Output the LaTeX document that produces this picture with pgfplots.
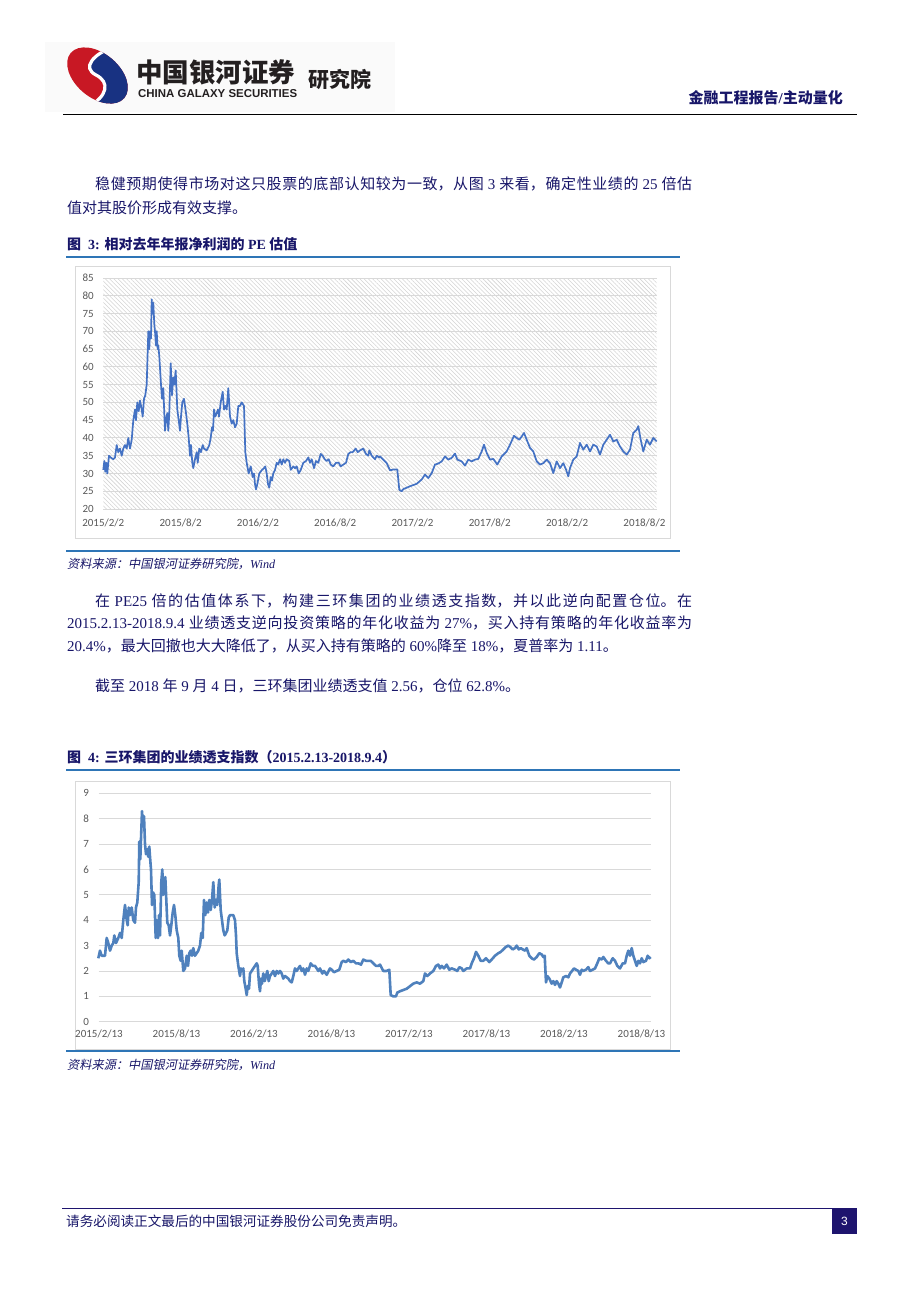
\documentclass[border=0pt]{standalone}
\usepackage{fontspec}
\usepackage{pgfplots}
\pgfplotsset{compat=1.18}
\usetikzlibrary{patterns.meta}
\setmainfont{Liberation Serif}
\newfontfamily\cjk{Noto Sans CJK SC}
\newfontfamily\cjkit[FakeSlant=0.2]{Noto Sans CJK SC}
\newfontfamily\ticksf{Carlito}
\newfontfamily\logosf{Liberation Sans}
\XeTeXlinebreaklocale "zh"
\XeTeXlinebreakskip=0pt plus 4pt minus 0.3pt
\definecolor{navy}{RGB}{24,22,105}
\definecolor{bluerule}{RGB}{46,117,182}
\definecolor{footnavy}{RGB}{30,20,110}
\definecolor{tickgray}{RGB}{89,89,89}
\definecolor{gridgray}{RGB}{217,217,217}
\definecolor{hatch}{RGB}{212,212,212}
\definecolor{boxgray}{RGB}{217,217,217}
\definecolor{lineA}{RGB}{68,114,196}
\definecolor{lineB}{RGB}{79,129,189}
\definecolor{logored}{RGB}{200,24,36}
\definecolor{logoblue}{RGB}{24,50,130}
\definecolor{logotext}{RGB}{35,31,32}
\newcommand\jline[2]{\parbox{#1}{\parfillskip=0pt\parindent=0pt\tolerance=10000\relax #2}}
\begin{document}
\begin{tikzpicture}
\begin{scope}[x=1pt,y=-1pt]
\fill[white] (0,0) rectangle (920,1302);
% logo
\fill[black!2] (45,42) rectangle (395,112);
\begin{scope}
\clip[rotate around={-40:(97.5,75.5)}] (97.5,75.5) ellipse (35 and 22);
\fill[logored] (55,40) rectangle (140,110);
\fill[logoblue] (116,46) .. controls (92,54) and (82,68) .. (96,75) .. controls (110,82) and (108,96) .. (88,107) -- (140,110) -- (140,40) -- cycle;
\draw[white,line width=3.2pt] (116,46) .. controls (92,54) and (82,68) .. (96,75) .. controls (110,82) and (108,96) .. (88,107);
\end{scope}
\node[anchor=west,inner sep=0,text=logotext] at (136,72) {\cjk\bfseries\fontsize{26.5}{28}\selectfont 中国银河证券};
\node[anchor=west,inner sep=0,text=logotext] at (138,93.3) {\resizebox{159pt}{8pt}{\logosf\bfseries CHINA GALAXY SECURITIES}};
\node[anchor=west,inner sep=0,text=logotext] at (308,79) {\cjk\bfseries\fontsize{21}{23}\selectfont 研究院};
% header
\draw[black,line width=1.4pt] (63,114.5) -- (857,114.5);
\node[anchor=east,inner sep=0,text=navy] at (843,98) {\bfseries\fontsize{15}{17}\selectfont{\cjk 金融工程报告}/{\cjk 主动量化}};
% paragraph 1
\node[anchor=west,inner sep=0,text=navy] at (95,184) {\fontsize{15}{17}\selectfont\jline{597pt}{{\cjk 稳健预期使得市场对这只股票的底部认知较为一致，从图} 3 {\cjk 来看，确定性业绩的} 25 {\cjk 倍估}}};
\node[anchor=west,inner sep=0,text=navy] at (67,208) {\fontsize{15}{17}\selectfont{\cjk 值对其股价形成有效支撑。}};
% title 3
\node[anchor=west,inner sep=0,text=navy] at (67,244) {\bfseries\fontsize{14}{16}\selectfont{\cjk 图} \ 3: {\cjk 相对去年年报净利润的} PE {\cjk 估值}};
\draw[bluerule,line width=1.5pt] (66,257) -- (680,257);
\draw[boxgray,line width=1pt] (75,266) rectangle (670,538);
\draw[bluerule,line width=1.5pt] (66,551) -- (680,551);
\node[anchor=west,inner sep=0,text=navy] at (67,564) {\fontsize{12.2}{14}\selectfont{\cjkit 资料来源：中国银河证券研究院，}{\itshape Wind}};
% paragraph 2
\node[anchor=west,inner sep=0,text=navy] at (95,601) {\fontsize{15}{17}\selectfont\jline{597pt}{{\cjk 在} PE25 {\cjk 倍的估值体系下，构建三环集团的业绩透支指数，并以此逆向配置仓位。在}}};
\node[anchor=west,inner sep=0,text=navy] at (67,623) {\fontsize{15}{17}\selectfont\jline{625pt}{2015.2.13-2018.9.4 {\cjk 业绩透支逆向投资策略的年化收益为} 27\%{\cjk ，买入持有策略的年化收益率为}}};
\node[anchor=west,inner sep=0,text=navy] at (67,646) {\fontsize{15}{17}\selectfont 20.4\%{\cjk ，最大回撤也大大降低了，从买入持有策略的} 60\%{\cjk 降至} 18\%{\cjk ，夏普率为} 1.11{\cjk 。}};
\node[anchor=west,inner sep=0,text=navy] at (95,686) {\fontsize{15}{17}\selectfont{\cjk 截至} 2018 {\cjk 年} 9 {\cjk 月} 4 {\cjk 日，三环集团业绩透支值} 2.56{\cjk ，仓位} 62.8\%{\cjk 。}};
% title 4
\node[anchor=west,inner sep=0,text=navy] at (67,757) {\bfseries\fontsize{14}{16}\selectfont{\cjk 图} \ 4: {\cjk 三环集团的业绩透支指数（}2015.2.13-2018.9.4{\cjk ）}};
\draw[bluerule,line width=1.5pt] (66,770) -- (680,770);
\draw[boxgray,line width=1pt] (75,781) rectangle (670,1049);
\draw[bluerule,line width=1.5pt] (66,1051) -- (680,1051);
\node[anchor=west,inner sep=0,text=navy] at (67,1065) {\fontsize{12.2}{14}\selectfont{\cjkit 资料来源：中国银河证券研究院，}{\itshape Wind}};
% footer
\draw[footnavy,line width=1.6pt] (62,1208.5) -- (857,1208.5);
\node[anchor=west,inner sep=0,text=navy] at (66,1221.5) {\fontsize{13.6}{15}\selectfont{\cjk 请务必阅读正文最后的中国银河证券股份公司免责声明。}};
\fill[footnavy] (832,1209) rectangle (857,1234);
\node[text=white,inner sep=0] at (844.5,1221.5) {\logosf\fontsize{12}{14}\selectfont 3};
\end{scope}

% chart 1
\begin{axis}[
  at={(103.3pt,-509pt)}, anchor=south west,
  scale only axis, width=553.4pt, height=231pt,
  xmin=103.3, xmax=656.7, ymin=20, ymax=85,
  ytick={20,25,...,85},
  xtick={103.3,180.6,257.9,335.2,412.5,489.8,567.1,644.4},
  xticklabels={2015/2/2,2015/8/2,2016/2/2,2016/8/2,2017/2/2,2017/8/2,2018/2/2,2018/8/2},
  ymajorgrids, grid style={draw=gridgray,line width=0.9pt},
  axis line style={draw=none}, major tick length=0pt,
  axis background/.style={pattern={Lines[angle=-45,distance=3pt,line width=0.55pt]},pattern color=hatch},
  tick label style={font=\ticksf\fontsize{11}{13}\selectfont,text=tickgray},
  /pgf/number format/assume math mode=true,
  yticklabel style={xshift=-6pt}, xticklabel style={yshift=-6pt},
  clip=false,
]
\addplot[lineA,line width=1.7pt,line join=round] coordinates {
(103.3,31)(104.3,33.5)(105.3,30.5)(106.3,33)(107.3,30)(109,35)(110.7,34.5)(113.3,34)(115,34.5)
(116.7,38)(118.3,36)(120,37)(121.7,35)(123.3,37)(125,38)(126.7,37)(128.3,40)(130,37)(131.7,39.5)
(133.3,45)(135,48)(136,45)(137.3,50)(138.7,47.5)(140,50.5)(141.7,48)(142.7,46)(144,51)(145.3,52)(146.7,55)
(148.3,70)(149.3,65)(150,70)(151,68)(151.7,79)(152.7,75)(153.3,78)(154.3,72)(155,70)(156,66)(156.7,70)
(157.7,65)(158.3,66)(159.3,63)(161,55)(162,51)(163.3,54)(165,42)(166,45)(167.3,47)(168.3,42)(169.3,47)
(170.7,61)(172,52)(173.3,57)(174.3,55)(175.7,59)(177.3,48)(178.7,45)(180,42)(181,46)(182.3,50)(184,51)
(186,47)(187.3,44)(188.7,40)(190,35)(191,38)(192.3,33)(193.3,31.5)(195,34)(196.7,36)(197.7,33)(199.3,37)
(201,36)(202.7,38)(204,37)(206.7,36.5)(209.3,38)(210.7,40)(212,43)(213,42)(214,48)(215.3,46)(216.7,47)
(218,48)(219,46)(220.7,50)(222.7,53)(224,48)(225.3,49)(226.7,48)(228.3,54)(230,46)(231.7,44)(233.3,45)
(235,43)(236.7,44)(238.3,49)(240,49)(241.7,50)(244,49)(245.3,36)(246.7,33)(248.7,30)(250.7,32)(252.7,29)
(254,30)(255,27)(256,25.5)(257.3,27)(259.3,30)(262,31)(264,31.5)(265.3,32)(266.7,30)(268,27)(269.3,26)
(270.7,29)(272,28)(273.3,30)(275,31)(276.7,33)(278.3,32.5)(280,34)(281.7,32.5)(283.3,34)(285,33)(286.7,34)
(289.3,33.5)(290.7,31)(293.3,32)(295,31.5)(296.7,32)(298.7,30)(300.7,31)(303.3,33)(306,33.5)(308.3,34.5)
(310,33)(311.7,34)(314,31.5)(316,33.5)(318.3,33)(320.7,35.5)(322.7,35)(324.7,34)(326.7,33.5)(328.7,34)
(330.7,32.5)(333.3,32)(336,33)(338.7,33)(340.7,32)(343.3,32.5)(346,33)(348.3,35.5)(350.7,36)(352.7,36)
(355.7,37)(357.7,36)(360,36.5)(363.3,37)(366,35.5)(368.3,35)(369.3,36.5)(371.7,35)(373.3,34.5)(375,34)
(376.7,35)(379.3,34.5)(380,34.8)(383.3,33.9)(386.7,32.9)(390,30.9)(393.3,31.1)(397.3,31.1)(399.3,25.4)
(401.7,25.0)(403.3,25.6)(410,26.4)(416.7,27.1)(421.7,28.3)(425,29.7)(428.3,28.7)(431.7,30.1)(435,32.5)
(438.3,32.8)(441.7,33.4)(445,34.8)(448.3,33.9)(451.7,34.4)(455,35.6)(457.3,33.9)(461.7,33.4)(465,32.2)
(468.3,33.9)(471.7,33.4)(475,33.9)(478.3,34.1)(481.7,36.2)(484,38.1)(486.7,35.8)(490,33.9)(493.3,34.1)
(497.3,32.5)(501.7,34.8)(506.7,36.2)(510,38.1)(514,40.6)(516.7,40.0)(519.3,39.5)(521.7,40.4)(524,41.4)
(526.7,39.5)(530,37.2)(533.3,36.2)(536.7,33.4)(540,32.5)(543.3,32.9)(546.7,33.9)(550,32.9)(553.3,30.1)
(556.7,33.4)(560,31.5)(563.3,32.9)(566,31.1)(568.3,29.2)(570,31.5)(573.3,33.9)(576.7,34.8)(580,38.6)
(583.3,36.7)(586.7,38.1)(590,36.2)(593.3,38.1)(596.7,37.6)(600,35.3)(603.3,38.1)(606.7,39.5)(610,40.9)
(613.3,39.0)(616.7,39.5)(620,37.6)(623.3,36.2)(626.7,35.3)(630,36.7)(633.3,41.4)(636.7,42.3)(638.3,43.3)
(640.7,39.5)(643.3,36.2)(646.7,39.5)(650,38.1)(653.3,40.0)(656.7,39.0)
};
\end{axis}

% chart 2
\begin{axis}[
  at={(98.5pt,-1021.7pt)}, anchor=south west,
  scale only axis, width=552.2pt, height=228.4pt,
  xmin=98.5, xmax=650.7, ymin=0, ymax=9,
  ytick={0,1,...,9},
  xtick={99,176.5,254,331.5,409,486.5,564,641.5},
  xticklabels={2015/2/13,2015/8/13,2016/2/13,2016/8/13,2017/2/13,2017/8/13,2018/2/13,2018/8/13},
  ymajorgrids, grid style={draw=gridgray,line width=0.9pt},
  axis line style={draw=none}, major tick length=0pt,
  tick label style={font=\ticksf\fontsize{11}{13}\selectfont,text=tickgray},
  /pgf/number format/assume math mode=true,
  yticklabel style={xshift=-6pt}, xticklabel style={yshift=-5pt},
  clip=false,
]
\addplot[lineB,line width=2.6pt,line join=round] coordinates {
(98.3,2.5)(100,2.8)(101.7,2.6)(105,2.6)(106.7,3.3)(108.3,3.1)(110,2.8)(111.7,3.0)(113.3,3.1)(114.3,3.4)
(116,3.1)(118.3,3.3)(120,3.5)(121.7,3.3)(123.3,4.0)(125,4.6)(126.7,4.0)(127.7,3.8)(128.7,4.5)(130,4.2)
(131.7,4.5)(133.3,4.0)(135,3.9)(136,4.5)(137.3,4.7)(138.7,5.5)(139.3,7.1)(140.3,6.4)(141,7.2)(142,8.3)
(143,7.7)(144,8.1)(145,7.0)(146,6.6)(147.3,6.8)(148.3,6.5)(149.3,6.9)(150,6.5)(151,6.0)(152,4.6)(153,5.1)
(154.3,5.0)(155.7,3.3)(156.7,4.0)(158,3.3)(159,4.2)(160,3.4)(161.3,5.5)(162.3,6.0)(163.3,5.0)(164.3,5.2)
(165.3,5.7)(166.3,4.8)(167.3,3.9)(168.7,3.8)(170,3.4)(171.3,3.8)(172.7,4.3)(174,4.6)(175.3,4.2)(176.7,3.6)
(178.3,3.3)(179.3,2.6)(180.7,2.4)(181.7,2.8)(183.3,2.0)(185,2.1)(186.7,2.6)(188,2.2)(189.3,2.7)(190.7,2.8)
(192,2.6)(193.3,2.9)(195,2.6)(196.7,2.7)(198.3,2.8)(200,3.0)(201.3,3.5)(202.7,3.3)(204,4.8)(205.3,4.2)
(206.7,4.7)(208,4.3)(209.3,4.8)(210.7,4.4)(212,4.8)(213.3,5.5)(214.7,4.5)(216,4.8)(217.3,4.6)(218.7,5.4)
(219.3,5.6)(220.7,4.4)(222,4.0)(223.3,3.6)(224.7,3.4)(226,3.5)(227.3,3.6)(228.7,4.1)(230,4.2)(231.7,4.2)
(233.3,4.2)(235,4.0)(236,3.4)(236.7,2.7)(238.3,2.2)(240,1.8)(241,2.1)(242,2.0)(243.3,2.1)(244.3,1.6)
(245.7,1.3)(246.7,1.05)(247.7,1.4)(249,1.3)(250,1.9)(251.7,2.0)(253.3,2.1)(255,2.2)(256.7,2.3)(257.7,2.2)
(259,1.5)(260,1.2)(261,1.7)(262,1.5)(263.3,1.9)(264.7,1.6)(266,1.8)(267.3,2.0)(268.7,1.6)(270,1.8)
(271.7,1.9)(273.3,2.0)(275,1.8)(276.7,2.0)(278.3,1.9)(280,2.0)(281.7,1.9)(283.3,1.7)(285,1.8)(286.7,1.75)
(288.3,1.7)(290,1.6)(291.7,1.55)(293.3,1.8)(295,2.1)(296.7,2.0)(298.3,2.1)(300,2.2)(301.7,2.0)(303.3,2.1)
(305,1.85)(306.7,2.1)(308.3,2.0)(310.7,2.3)(312.7,2.2)(315,2.2)(316.7,2.1)(318.3,2.0)(320,2.1)(322.3,1.9)
(324,2.0)(326.7,1.85)(330,2.1)(331.7,2.05)(334,1.95)(336.7,2.0)(339.3,2.05)(341.7,2.35)(343.3,2.4)
(346,2.35)(348.3,2.45)(350.7,2.35)(353.3,2.4)(356,2.3)(358.3,2.3)(361,2.25)(363.3,2.45)(366,2.4)(368.3,2.4)
(370.7,2.4)(373.3,2.3)(376,2.2)(378.3,2.2)(380,2.25)(383.3,2.0)(386.7,2.0)(389.3,2.05)(390.7,1.05)
(393.3,1.0)(396,1.0)(397.3,1.15)(400,1.2)(403.3,1.25)(406.7,1.3)(410,1.4)(413.3,1.5)(416.7,1.55)(420,1.5)
(423.3,1.6)(425,1.9)(427.3,1.8)(430,1.9)(433.3,2.0)(436,2.2)(438.3,2.25)(440,2.1)(441.7,2.2)(444,2.1)
(446.7,2.25)(449.3,2.05)(451.7,2.1)(455,2.05)(457.3,2.0)(459.3,2.15)(461.7,2.1)(463.3,2.0)(466.7,2.1)
(470,2.1)(471.7,2.3)(474,2.5)(476,2.75)(478.3,2.6)(480.7,2.4)(483.3,2.4)(486,2.5)(489.3,2.35)(491.7,2.45)
(495,2.6)(498.3,2.7)(500.7,2.75)(503.3,2.85)(506,2.95)(508.3,3.0)(510,2.95)(512.7,2.85)(515,2.9)(516.7,3.0)
(518.7,2.85)(520.7,2.9)(522.7,2.85)(525,2.8)(526.7,2.9)(529.3,2.6)(531.7,2.5)(534,2.45)(536.7,2.55)
(539.3,2.7)(541.7,2.65)(543.3,2.55)(544.7,2.6)(546,1.55)(547.3,1.8)(549.3,1.7)(551.7,1.5)(553.3,1.6)
(555,1.45)(556.7,1.6)(558.3,1.5)(560,1.35)(561.7,1.55)(563.3,1.75)(566,1.8)(568.3,1.75)(570,1.9)(572,2.0)
(574,2.1)(576,2.05)(578.3,2.0)(580,1.85)(581.7,2.05)(583.3,2.0)(586,2.05)(588.3,2.15)(590,2.0)(592.7,2.05)
(595,2.1)(597.3,2.3)(599.3,2.5)(601.7,2.45)(603.3,2.55)(606,2.4)(608.3,2.3)(610,2.3)(612.7,2.5)(615,2.4)
(617.3,2.2)(620,2.1)(622.7,2.3)(625,2.3)(626.7,2.6)(628.3,2.8)(630,2.6)(631.7,2.9)(633.3,2.6)(635,2.4)
(636.7,2.2)(638.3,2.4)(640,2.3)(641.7,2.5)(643.3,2.35)(646,2.4)(647.7,2.6)(649.3,2.5)(650.7,2.55)
};
\end{axis}
\end{tikzpicture}
\end{document}
